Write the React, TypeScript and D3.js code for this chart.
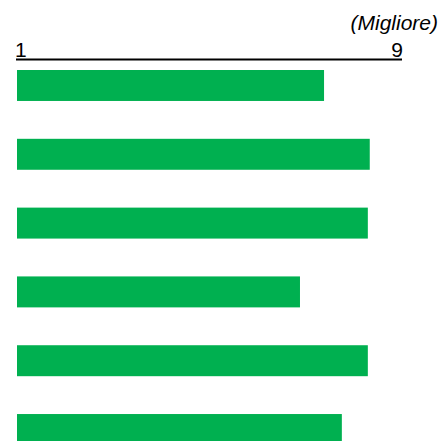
import React from "react";
import * as d3 from "d3";

const categories = ["A", "B", "C", "D", "E", "F"];
const values = [7.38, 8.33, 8.29, 6.88, 8.29, 7.75];
const scaleMin = 1;
const scaleMax = 9;
const bestLabel = "(Migliore)";

export default function App() {
  const W = 441;
  const H = 441;
  const x = d3.scaleLinear().domain([scaleMin, scaleMax]).range([17, 402]);
  const y = d3
    .scaleBand<string>()
    .domain(categories)
    .range([70, 445])
    .paddingInner(0.55)
    .paddingOuter(0);
  const textStyle: React.CSSProperties = {
    fontFamily: "'Liberation Sans', Arial, sans-serif",
    fontSize: "21px",
  };
  return (
    <svg
      width={W}
      height={H}
      style={{ position: "absolute", left: 0, top: 0, background: "#fff" }}
    >
      <text
        x={438}
        y={29.5}
        textAnchor="end"
        style={{ ...textStyle, fontStyle: "italic" }}
        fill="#000"
      >
        {bestLabel}
      </text>
      <text x={x(scaleMin) - 2} y={57} textAnchor="start" style={textStyle} fill="#000">
        {String(scaleMin)}
      </text>
      <text x={x(scaleMax) + 1} y={57} textAnchor="end" style={textStyle} fill="#000">
        {String(scaleMax)}
      </text>
      <line x1={16} x2={x(scaleMax)} y1={59.5} y2={59.5} stroke="#000" strokeWidth={2} />
      {categories.map((c, i) => (
        <rect
          key={c}
          x={x(scaleMin)}
          y={y(c)}
          width={x(values[i]) - x(scaleMin)}
          height={y.bandwidth()}
          fill="#00B050"
        />
      ))}
    </svg>
  );
}
